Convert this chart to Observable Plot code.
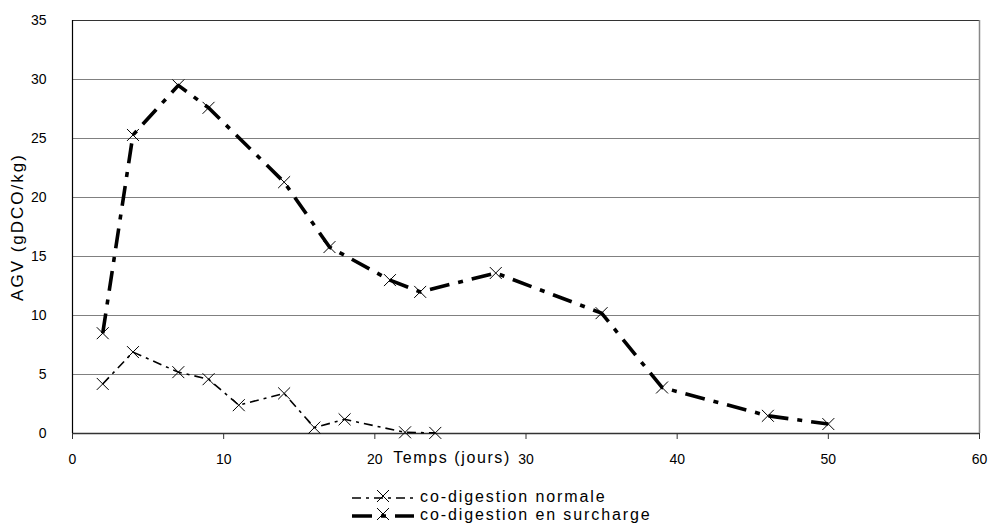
<!DOCTYPE html>
<html>
<head>
<meta charset="utf-8">
<script src="https://cdn.jsdelivr.net/npm/d3@7"></script>
<script src="https://cdn.jsdelivr.net/npm/@observablehq/plot@0.6"></script>
<style>
  html, body { margin: 0; padding: 0; background: #fff; }
  #wrap { position: relative; width: 990px; height: 527px; overflow: hidden; font-family: "Liberation Sans", Arial, sans-serif; }
  #legend { position: absolute; left: 350px; top: 488px; font-size: 16px; letter-spacing: 1.9px; color: #000; }
  .row { display: flex; align-items: center; height: 18px; line-height: 18px; }
  .row svg { margin-right: 6px; }
</style>
</head>
<body>
<div id="wrap"><div id="chart"></div><div id="legend"></div></div>
<script>
// Data
const normalDays = [2, 4, 7, 9, 11, 14, 16, 18, 22, 24];
const normalAGV  = [4.2, 6.9, 5.2, 4.6, 2.4, 3.4, 0.5, 1.2, 0.1, 0.05];
const surchargeDays = [2, 4, 7, 9, 14, 17, 21, 23, 28, 35, 39, 46, 50];
const surchargeAGV  = [8.5, 25.3, 29.5, 27.6, 21.3, 15.8, 13.0, 12.0, 13.6, 10.2, 3.9, 1.5, 0.8];
const seriesNames = ["co-digestion normale", "co-digestion en surcharge"];
const xTicks = [0, 10, 20, 30, 40, 50, 60];
const yTicks = [0, 5, 10, 15, 20, 25, 30, 35];
const xLabel = "Temps (jours)";
const yLabel = "AGV (gDCO/kg)";

const normal = normalDays.map((d, i) => ({x: d, y: normalAGV[i]}));
const surcharge = surchargeDays.map((d, i) => ({x: d, y: surchargeAGV[i]}));

const styles = [
  {strokeWidth: 1.6, dash: "9,5,3,5"},
  {strokeWidth: 3.6, dash: "20,9,5,9"}
];

const chart = Plot.plot({
  width: 990,
  height: 485,
  marginLeft: 72,
  marginRight: 11,
  marginTop: 20,
  marginBottom: 52,
  style: {fontFamily: "'Liberation Sans', Arial, sans-serif", fontSize: "14px", background: "#fff", overflow: "visible"},
  x: {domain: [0, 60]},
  y: {domain: [0, 35]},
  marks: [
    Plot.ruleY(yTicks.filter(v => v > 0 && v < 35), {stroke: "#808080", strokeWidth: 1, strokeOpacity: 1}),
    Plot.ruleY([35], {stroke: "#333", strokeWidth: 1.2, strokeOpacity: 1}),
    Plot.ruleX([60], {stroke: "#888", strokeWidth: 1.5, strokeOpacity: 1}),
    Plot.axisX({ticks: xTicks, tickSize: 6, tickPadding: 15, label: null, stroke: "#333", color: "#000", fontSize: 14}),
    Plot.axisY({ticks: yTicks, tickSize: 0, tickPadding: 26, label: null, color: "#000", fontSize: 14}),
    Plot.ruleY([0], {stroke: "#333", strokeWidth: 1.5}),
    Plot.ruleX([0], {stroke: "#000", strokeWidth: 1.2}),
    Plot.line(surcharge, {x: "x", y: "y", stroke: "#000", strokeWidth: styles[1].strokeWidth, strokeDasharray: styles[1].dash, strokeLinecap: "butt"}),
    Plot.line(normal, {x: "x", y: "y", stroke: "#000", strokeWidth: styles[0].strokeWidth, strokeDasharray: styles[0].dash, strokeLinecap: "butt"}),
    Plot.dot(surcharge, {x: "x", y: "y", symbol: "times", r: 5.5, stroke: "#000", strokeWidth: 1}),
    Plot.dot(normal, {x: "x", y: "y", symbol: "times", r: 5.5, stroke: "#000", strokeWidth: 1}),
    Plot.text([xLabel], {frameAnchor: "bottom", textAnchor: "middle", dx: -74, dy: 29, fontSize: 16, fill: "#000"}),
    Plot.text([yLabel], {frameAnchor: "left", textAnchor: "middle", rotate: -90, dx: -55, fontSize: 17, fill: "#000"})
  ]
});
chart.querySelectorAll("text").forEach(t => {
  if (t.textContent === xLabel) t.setAttribute("letter-spacing", "1.6");
  if (t.textContent === yLabel) t.setAttribute("letter-spacing", "2");
});
document.getElementById("chart").appendChild(chart);

// Legend
const legend = document.getElementById("legend");
seriesNames.forEach((name, i) => {
  const row = document.createElement("div");
  row.className = "row";
  const s = styles[i];
  row.innerHTML = `<svg width="64" height="14" viewBox="0 0 64 14">
    <line x1="2" y1="8" x2="64" y2="8" stroke="#000" stroke-width="${s.strokeWidth}" stroke-dasharray="${s.dash}"/>
    <path d="M27,2L39,14M27,14L39,2" transform="translate(0,-2)" stroke="#000" stroke-width="1" fill="none"/>
  </svg><span>${name}</span>`;
  legend.appendChild(row);
});
</script>
</body>
</html>
